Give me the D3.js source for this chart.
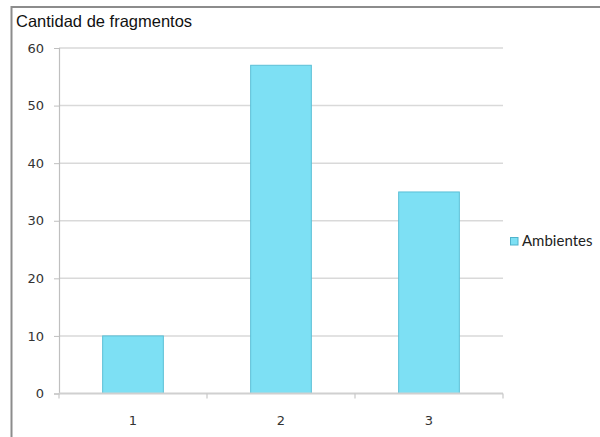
<!DOCTYPE html>
<html>
<head>
<meta charset="utf-8">
<script src="https://cdn.jsdelivr.net/npm/d3@7"></script>
<style>
  html, body { margin: 0; padding: 0; background: #fff; overflow: hidden; }
  svg { display: block; }
</style>
</head>
<body>
<script>
// Fragment counts per category
const categories = ["1", "2", "3"];
const values = [10, 57, 35];
const yTicks = [0, 10, 20, 30, 40, 50, 60];
const seriesName = "Ambientes";
const chartTitle = "Cantidad de fragmentos";

const W = 600, H = 437;
const svg = d3.select("body").append("svg").attr("width", W).attr("height", H);

// outer frame (extends past the right and bottom edges)
svg.append("rect")
  .attr("x", 11.5).attr("y", 7).attr("width", 620).attr("height", 460)
  .attr("fill", "none").attr("stroke", "#8c8c8c").attr("stroke-width", 2);

const plot = { left: 59, right: 503, top: 48, bottom: 393.5 };

const x = d3.scaleBand().domain(categories).range([plot.left, plot.right]).paddingInner(0.59).paddingOuter(0.295);
const xEdges = d3.scaleLinear().domain([0, categories.length]).range([plot.left, plot.right]);
const y = d3.scaleLinear().domain([0, 60]).range([plot.bottom, plot.top]);

// horizontal gridlines
svg.append("g").selectAll("line").data(yTicks.filter(d => d > 0)).join("line")
  .attr("x1", plot.left).attr("x2", plot.right)
  .attr("y1", d => y(d)).attr("y2", d => y(d))
  .attr("stroke", "#d9d9d9").attr("stroke-width", 1.5);

// y axis
const yAxis = svg.append("g").attr("transform", `translate(${plot.left},0)`)
  .call(d3.axisLeft(y).tickValues(yTicks).tickSize(5).tickPadding(10));
yAxis.select(".domain").attr("stroke", "#bfbfbf").attr("stroke-width", 1.2);
yAxis.selectAll(".tick line").attr("stroke", "#bfbfbf");
yAxis.selectAll("text").attr("font-family", "DejaVu Sans, sans-serif").attr("font-size", 13).attr("fill", "#333");

// bars
svg.append("g").selectAll("rect").data(values).join("rect")
  .attr("x", (d, i) => x(categories[i]))
  .attr("y", d => y(d))
  .attr("width", x.bandwidth())
  .attr("height", d => y(0) - y(d))
  .attr("fill", "#7de0f4")
  .attr("stroke", "#5cbfd6").attr("stroke-width", 1);

// x axis baseline and tick marks at band edges
const xg = svg.append("g");
xg.append("line").attr("x1", plot.left).attr("x2", plot.right)
  .attr("y1", y(0)).attr("y2", y(0)).attr("stroke", "#d0d0d0").attr("stroke-width", 2);
xg.selectAll("line.tk").data(d3.range(categories.length + 1)).join("line").attr("class", "tk")
  .attr("x1", d => xEdges(d)).attr("x2", d => xEdges(d))
  .attr("y1", y(0)).attr("y2", y(0) + 5).attr("stroke", "#c8c8c8").attr("stroke-width", 1.2);
xg.selectAll("text").data(categories).join("text")
  .attr("x", d => x(d) + x.bandwidth() / 2).attr("y", 425)
  .attr("text-anchor", "middle")
  .attr("font-family", "DejaVu Sans, sans-serif").attr("font-size", 13).attr("fill", "#333")
  .text(d => d);

// title
svg.append("text").attr("x", 16).attr("y", 27)
  .attr("font-family", "Liberation Sans, Arial, sans-serif").attr("font-size", 16.5).attr("fill", "#111")
  .text(chartTitle);

// legend
const lg = svg.append("g").attr("transform", "translate(510,237)");
lg.append("rect").attr("x", 0.5).attr("y", 0.5).attr("width", 7.5).attr("height", 7.5)
  .attr("fill", "#7de0f4").attr("stroke", "#4fb3cc");
lg.append("text").attr("x", 12).attr("y", 9)
  .attr("font-family", "Lato, Carlito, sans-serif").attr("font-size", 15).attr("fill", "#222")
  .text(seriesName);
</script>
</body>
</html>
